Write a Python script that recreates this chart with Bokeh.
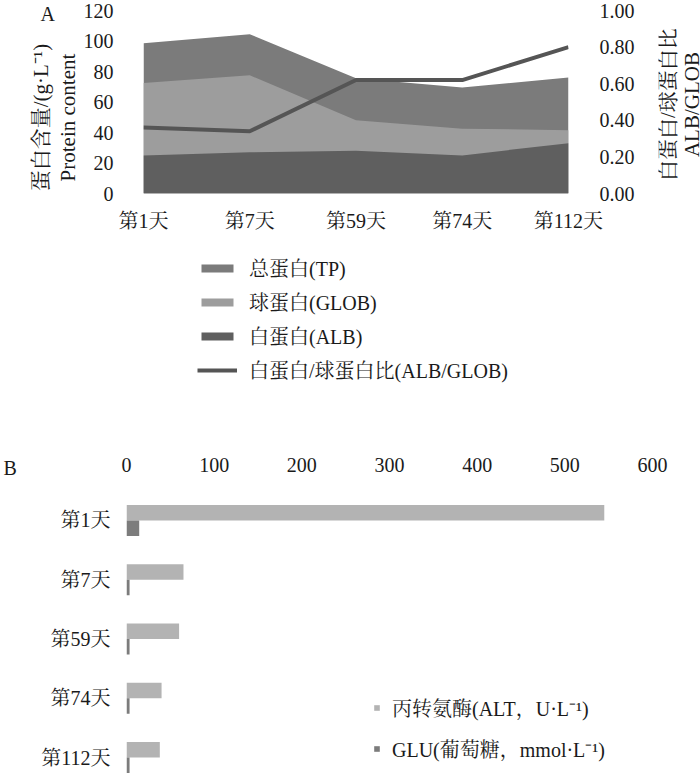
import math
from bokeh.plotting import figure
from bokeh.models import (Range1d, LinearAxis, FixedTicker, Legend, LegendItem, Title, Label,
                          PrintfTickFormatter, ColumnDataSource)
from bokeh.layouts import row
from bokeh.embed import file_html
from bokeh.resources import INLINE
from bokeh.transform import dodge

# ---------------- data ----------------
days = ["第1天", "第7天", "第59天", "第74天", "第112天"]
tp = [98.5, 104.5, 75.5, 69.5, 76.0]        # 总蛋白 g/L
glob = [72.5, 77.5, 48.0, 42.5, 41.5]       # 球蛋白 g/L
alb = [25.0, 27.0, 28.0, 25.0, 33.0]        # 白蛋白 g/L
ratio = [0.36, 0.34, 0.62, 0.62, 0.80]      # ALB/GLOB
protein_ticks = [0, 20, 40, 60, 80, 100, 120]
ratio_ticks = [0.0, 0.2, 0.4, 0.6, 0.8, 1.0]

alt = [545, 65, 60, 40, 38]                 # ALT U/L
glu = [14.5, 3.5, 3.5, 3.5, 3.5]            # GLU mmol/L
enzyme_ticks = [0, 100, 200, 300, 400, 500, 600]

legend_a_labels = ["总蛋白(TP)", "球蛋白(GLOB)", "白蛋白(ALB)", "白蛋白/球蛋白比(ALB/GLOB)"]
legend_b_labels = ["丙转氨酶(ALT，U·L⁻¹)", "GLU(葡萄糖，mmol·L⁻¹)"]
left_title = "蛋白含量/(g·L⁻¹)\nProtein content"
right_title = "白蛋白/球蛋白比\nALB/GLOB"

# ---------------- style ----------------
FONT = "'Liberation Serif', 'Noto Serif CJK SC', 'Noto Sans CJK SC', serif"
FS = "20px"
TXT = "#1a1a1a"
C_TP = "#7b7b7b"
C_GLOB = "#9d9d9d"
C_ALB = "#5f5f5f"
C_LINE = "#555555"
C_ALT = "#b3b3b3"
C_GLU = "#7c7c7c"

idx = list(range(len(days)))
overrides = {i: d for i, d in zip(idx, days)}


def style_axis(ax, standoff):
    ax.axis_line_color = None
    ax.major_tick_line_color = None
    ax.minor_tick_line_color = None
    ax.major_label_text_font = FONT
    ax.major_label_text_font_size = FS
    ax.major_label_text_color = TXT
    ax.major_label_standoff = standoff


def panel_title(text, offset, standoff):
    t = Title(text=text, align="left", vertical_align="bottom", offset=offset,
              text_font=FONT, text_font_size=FS, text_font_style="normal",
              text_color=TXT)
    try:
        t.standoff = standoff
    except Exception:
        t.standoff = 0
    return t


def make_legend(items, location, glyph_w, glyph_h, spacing):
    return Legend(items=items, location=location, orientation="vertical",
                  glyph_width=glyph_w, glyph_height=glyph_h, label_height=20,
                  spacing=spacing, label_standoff=12, padding=0, margin=0,
                  border_line_color=None, background_fill_alpha=0,
                  inactive_fill_alpha=0,
                  label_text_font=FONT, label_text_font_size=FS,
                  label_text_color=TXT)


def bare_figure(**kw):
    f = figure(output_backend="svg", toolbar_location=None,
               x_axis_location=None, y_axis_location=None, **kw)
    f.outline_line_color = None
    f.xgrid.visible = False
    f.ygrid.visible = False
    return f


def side_title(text, x, y, line_height):
    return Label(x=x, y=y, text=text, angle=math.pi / 2,
                 text_align="center", text_baseline="middle",
                 text_font=FONT, text_font_size="21px", text_color=TXT,
                 text_line_height=line_height)


# ---------------- chart A ----------------
pA = figure(width=578, height=240,
            x_range=Range1d(0, len(days) - 1), y_range=Range1d(0, 120),
            output_backend="svg", toolbar_location=None,
            min_border_left=61, min_border_right=90,
            min_border_top=10, min_border_bottom=47)
pA.outline_line_color = None
pA.xgrid.visible = False
pA.ygrid.visible = False
pA.extra_y_ranges = {"ratio": Range1d(0, 1.0)}

srcA = ColumnDataSource(dict(x=idx, tp=tp, glob=glob, alb=alb, ratio=ratio))
pA.varea(x="x", y1=0, y2="tp", source=srcA, fill_color=C_TP)
pA.varea(x="x", y1=0, y2="glob", source=srcA, fill_color=C_GLOB)
pA.varea(x="x", y1=0, y2="alb", source=srcA, fill_color=C_ALB)
pA.line(x="x", y="ratio", source=srcA, y_range_name="ratio",
        line_width=4, line_color=C_LINE)

pA.xaxis.ticker = FixedTicker(ticks=idx)
pA.xaxis.major_label_overrides = overrides
style_axis(pA.xaxis[0], 10)
pA.yaxis.ticker = FixedTicker(ticks=protein_ticks)
style_axis(pA.yaxis[0], 24)

ax_r = LinearAxis(y_range_name="ratio", ticker=FixedTicker(ticks=ratio_ticks),
                  formatter=PrintfTickFormatter(format="%.2f"))
style_axis(ax_r, 25)
pA.add_layout(ax_r, "right")

# panel letter and axis titles of chart A, in slim panels either side (read bottom to top)
pLeft = bare_figure(width=80, height=240, x_range=Range1d(0, 1), y_range=Range1d(0, 1),
                    min_border_left=0, min_border_right=0,
                    min_border_top=10, min_border_bottom=47)
pLeft.title = panel_title("A", 40, -28)
pLeft.add_layout(side_title(left_title, 0.675, 0.415, 1.1))

pR = bare_figure(width=42, height=240, x_range=Range1d(0, 1), y_range=Range1d(0, 1),
                 min_border_left=0, min_border_right=0,
                 min_border_top=10, min_border_bottom=47)
pR.add_layout(side_title(right_title, 0.5, 0.486, 1.0))

# ---------------- legend of chart A ----------------
pL = bare_figure(width=700, height=212, x_range=Range1d(0, 1), y_range=Range1d(0, 1),
                 min_border_left=0, min_border_right=0, min_border_top=0,
                 min_border_bottom=0)
s_tp = pL.varea(x="x", y1=0, y2="tp", source=srcA, fill_color=C_TP, visible=False)
s_glob = pL.varea(x="x", y1=0, y2="glob", source=srcA, fill_color=C_GLOB, visible=False)
s_alb = pL.varea(x="x", y1=0, y2="alb", source=srcA, fill_color=C_ALB, visible=False)
s_ratio = pL.line(x="x", y="ratio", source=srcA, line_width=4, line_color=C_LINE,
                  visible=False)
legA = make_legend([LegendItem(label=lab, renderers=[r]) for lab, r in
                    zip(legend_a_labels, [s_tp, s_glob, s_alb, s_ratio])],
                   (197, 68), 40, 10, 5)
pL.add_layout(legA, "center")

# ---------------- chart B ----------------
pB = figure(width=700, height=321,
            x_range=Range1d(0, 600), y_range=Range1d(4.27, -0.506),
            x_axis_location="above",
            output_backend="svg", toolbar_location=None,
            min_border_left=126, min_border_right=48,
            min_border_top=38, min_border_bottom=0)
pB.outline_line_color = None
pB.xgrid.visible = False
pB.ygrid.visible = False
pB.title = panel_title("B", -123, -48)

srcB = ColumnDataSource(dict(y=idx, alt=alt, glu=glu))
r_alt = pB.hbar(y=dodge("y", -0.13), left=0, right="alt", height=0.26, source=srcB,
                fill_color=C_ALT, line_color=None)
r_glu = pB.hbar(y=dodge("y", 0.13), left=0, right="glu", height=0.26, source=srcB,
                fill_color=C_GLU, line_color=None)

pB.xaxis.ticker = FixedTicker(ticks=enzyme_ticks)
style_axis(pB.xaxis[0], 13)
pB.yaxis.ticker = FixedTicker(ticks=idx)
pB.yaxis.major_label_overrides = overrides
style_axis(pB.yaxis[0], 10)

legB = make_legend([LegendItem(label=lab, renderers=[r]) for lab, r in
                    zip(legend_b_labels, [r_alt, r_glu])],
                   (247, 10), 7, 7, 12)
pB.add_layout(legB, "center")

open("out.html", "w").write(file_html([row(pLeft, pA, pR), pL, pB], INLINE))
